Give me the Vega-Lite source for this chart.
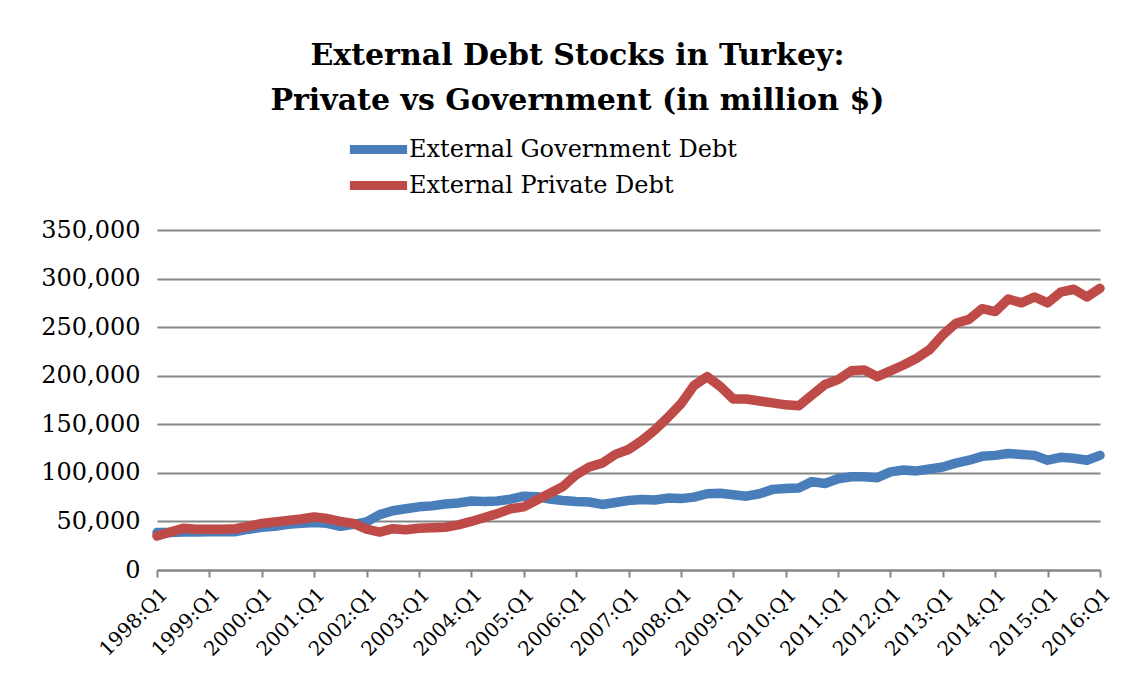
{
  "$schema": "https://vega.github.io/schema/vega-lite/v6.json",
  "width": 943,
  "height": 340,
  "autosize": {"type": "none"},
  "padding": {"left": 157, "top": 230, "right": 23, "bottom": 109},
  "background": "white",
  "title": {
    "text": ["External Debt Stocks in Turkey:", "Private vs Government (in million $)"],
    "font": "DejaVu Serif",
    "fontSize": 30,
    "fontWeight": "bold",
    "lineHeight": 45,
    "color": "black",
    "anchor": "middle",
    "frame": "bounds",
    "offset": 16
  },
  "data": {
    "values": [
      {"q": "1998:Q1", "External Government Debt": 38500, "External Private Debt": 35000},
      {"q": "1998:Q2", "External Government Debt": 38500, "External Private Debt": 39000},
      {"q": "1998:Q3", "External Government Debt": 39000, "External Private Debt": 43000},
      {"q": "1998:Q4", "External Government Debt": 39000, "External Private Debt": 42000},
      {"q": "1999:Q1", "External Government Debt": 39500, "External Private Debt": 42000},
      {"q": "1999:Q2", "External Government Debt": 39500, "External Private Debt": 42000},
      {"q": "1999:Q3", "External Government Debt": 39500, "External Private Debt": 42500},
      {"q": "1999:Q4", "External Government Debt": 42000, "External Private Debt": 45000},
      {"q": "2000:Q1", "External Government Debt": 44000, "External Private Debt": 48000},
      {"q": "2000:Q2", "External Government Debt": 45000, "External Private Debt": 49500},
      {"q": "2000:Q3", "External Government Debt": 47000, "External Private Debt": 51000},
      {"q": "2000:Q4", "External Government Debt": 48000, "External Private Debt": 52500},
      {"q": "2001:Q1", "External Government Debt": 49000, "External Private Debt": 54500},
      {"q": "2001:Q2", "External Government Debt": 48000, "External Private Debt": 53000},
      {"q": "2001:Q3", "External Government Debt": 45000, "External Private Debt": 50000},
      {"q": "2001:Q4", "External Government Debt": 47000, "External Private Debt": 48000},
      {"q": "2002:Q1", "External Government Debt": 49500, "External Private Debt": 42000},
      {"q": "2002:Q2", "External Government Debt": 57000, "External Private Debt": 39000},
      {"q": "2002:Q3", "External Government Debt": 61000, "External Private Debt": 42500},
      {"q": "2002:Q4", "External Government Debt": 63000, "External Private Debt": 41500},
      {"q": "2003:Q1", "External Government Debt": 65000, "External Private Debt": 43000},
      {"q": "2003:Q2", "External Government Debt": 66000, "External Private Debt": 43500},
      {"q": "2003:Q3", "External Government Debt": 68000, "External Private Debt": 44000},
      {"q": "2003:Q4", "External Government Debt": 69000, "External Private Debt": 46500},
      {"q": "2004:Q1", "External Government Debt": 71000, "External Private Debt": 50000},
      {"q": "2004:Q2", "External Government Debt": 70500, "External Private Debt": 54000},
      {"q": "2004:Q3", "External Government Debt": 71000, "External Private Debt": 58000},
      {"q": "2004:Q4", "External Government Debt": 73000, "External Private Debt": 63000},
      {"q": "2005:Q1", "External Government Debt": 76000, "External Private Debt": 65000},
      {"q": "2005:Q2", "External Government Debt": 75500, "External Private Debt": 72000},
      {"q": "2005:Q3", "External Government Debt": 73000, "External Private Debt": 79000},
      {"q": "2005:Q4", "External Government Debt": 71500, "External Private Debt": 86000},
      {"q": "2006:Q1", "External Government Debt": 70500, "External Private Debt": 98000},
      {"q": "2006:Q2", "External Government Debt": 70000, "External Private Debt": 106000},
      {"q": "2006:Q3", "External Government Debt": 67500, "External Private Debt": 110000},
      {"q": "2006:Q4", "External Government Debt": 69500, "External Private Debt": 119000},
      {"q": "2007:Q1", "External Government Debt": 71500, "External Private Debt": 124000},
      {"q": "2007:Q2", "External Government Debt": 72500, "External Private Debt": 133000},
      {"q": "2007:Q3", "External Government Debt": 72000, "External Private Debt": 144000},
      {"q": "2007:Q4", "External Government Debt": 74000, "External Private Debt": 157000},
      {"q": "2008:Q1", "External Government Debt": 73500, "External Private Debt": 171000},
      {"q": "2008:Q2", "External Government Debt": 75000, "External Private Debt": 190000},
      {"q": "2008:Q3", "External Government Debt": 78500, "External Private Debt": 199000},
      {"q": "2008:Q4", "External Government Debt": 79000, "External Private Debt": 189000},
      {"q": "2009:Q1", "External Government Debt": 77500, "External Private Debt": 176000},
      {"q": "2009:Q2", "External Government Debt": 76000, "External Private Debt": 176000},
      {"q": "2009:Q3", "External Government Debt": 78500, "External Private Debt": 174000},
      {"q": "2009:Q4", "External Government Debt": 83000, "External Private Debt": 172000},
      {"q": "2010:Q1", "External Government Debt": 84000, "External Private Debt": 170000},
      {"q": "2010:Q2", "External Government Debt": 84500, "External Private Debt": 169000},
      {"q": "2010:Q3", "External Government Debt": 91000, "External Private Debt": 180000},
      {"q": "2010:Q4", "External Government Debt": 89000, "External Private Debt": 191000},
      {"q": "2011:Q1", "External Government Debt": 94000, "External Private Debt": 196000},
      {"q": "2011:Q2", "External Government Debt": 96000, "External Private Debt": 205000},
      {"q": "2011:Q3", "External Government Debt": 96000, "External Private Debt": 206000},
      {"q": "2011:Q4", "External Government Debt": 95000, "External Private Debt": 199000},
      {"q": "2012:Q1", "External Government Debt": 101000, "External Private Debt": 205000},
      {"q": "2012:Q2", "External Government Debt": 103000, "External Private Debt": 211000},
      {"q": "2012:Q3", "External Government Debt": 102000, "External Private Debt": 218000},
      {"q": "2012:Q4", "External Government Debt": 104000, "External Private Debt": 227000},
      {"q": "2013:Q1", "External Government Debt": 106000, "External Private Debt": 242000},
      {"q": "2013:Q2", "External Government Debt": 110000, "External Private Debt": 254000},
      {"q": "2013:Q3", "External Government Debt": 113000, "External Private Debt": 258000},
      {"q": "2013:Q4", "External Government Debt": 117000, "External Private Debt": 269000},
      {"q": "2014:Q1", "External Government Debt": 118000, "External Private Debt": 266000},
      {"q": "2014:Q2", "External Government Debt": 120000, "External Private Debt": 279000},
      {"q": "2014:Q3", "External Government Debt": 119000, "External Private Debt": 275000},
      {"q": "2014:Q4", "External Government Debt": 118000, "External Private Debt": 281000},
      {"q": "2015:Q1", "External Government Debt": 113000, "External Private Debt": 275000},
      {"q": "2015:Q2", "External Government Debt": 116000, "External Private Debt": 286000},
      {"q": "2015:Q3", "External Government Debt": 115000, "External Private Debt": 289000},
      {"q": "2015:Q4", "External Government Debt": 113000, "External Private Debt": 281000},
      {"q": "2016:Q1", "External Government Debt": 118000, "External Private Debt": 290000}
    ]
  },
  "transform": [
    {"fold": ["External Government Debt", "External Private Debt"], "as": ["series", "value"]}
  ],
  "mark": {"type": "line", "strokeWidth": 9.5, "strokeCap": "round", "strokeJoin": "round"},
  "encoding": {
    "x": {
      "field": "q",
      "type": "ordinal",
      "sort": null,
      "scale": {"type": "point", "padding": 0},
      "axis": {
        "title": null,
        "values": ["1998:Q1", "1999:Q1", "2000:Q1", "2001:Q1", "2002:Q1", "2003:Q1", "2004:Q1", "2005:Q1", "2006:Q1", "2007:Q1", "2008:Q1", "2009:Q1", "2010:Q1", "2011:Q1", "2012:Q1", "2013:Q1", "2014:Q1", "2015:Q1", "2016:Q1"],
        "labelAngle": -45,
        "labelAlign": "right",
        "labelBaseline": "top",
        "labelFont": "DejaVu Serif",
        "labelFontSize": 20,
        "labelColor": "black",
        "labelPadding": 7,
        "labelOverlap": false,
        "domainColor": "#868686",
        "domainWidth": 2,
        "tickColor": "#868686",
        "tickWidth": 2,
        "tickSize": 7,
        "grid": false
      }
    },
    "y": {
      "field": "value",
      "type": "quantitative",
      "scale": {"domain": [0, 350000], "nice": false},
      "axis": {
        "title": null,
        "values": [0, 50000, 100000, 150000, 200000, 250000, 300000, 350000],
        "format": ",d",
        "labelFont": "DejaVu Serif",
        "labelFontSize": 24,
        "labelColor": "black",
        "labelPadding": 17,
        "domain": false,
        "ticks": false,
        "grid": true,
        "gridColor": "#868686",
        "gridWidth": 2,
        "gridOpacity": 1
      }
    },
    "color": {
      "field": "series",
      "type": "nominal",
      "scale": {
        "domain": ["External Government Debt", "External Private Debt"],
        "range": ["#4A7EBB", "#BE4B48"]
      },
      "legend": {
        "title": null,
        "orient": "none",
        "legendX": 204,
        "legendY": -98,
        "direction": "vertical",
        "symbolType": "M-2.2,0H2.2",
        "symbolSize": 676,
        "symbolStrokeWidth": 9,
        "labelFont": "DejaVu Serif",
        "labelFontSize": 24,
        "labelColor": "black",
        "labelOffset": 13,
        "labelLimit": 0,
        "rowPadding": -3
      }
    }
  },
  "config": {
    "view": {"stroke": null}
  }
}
